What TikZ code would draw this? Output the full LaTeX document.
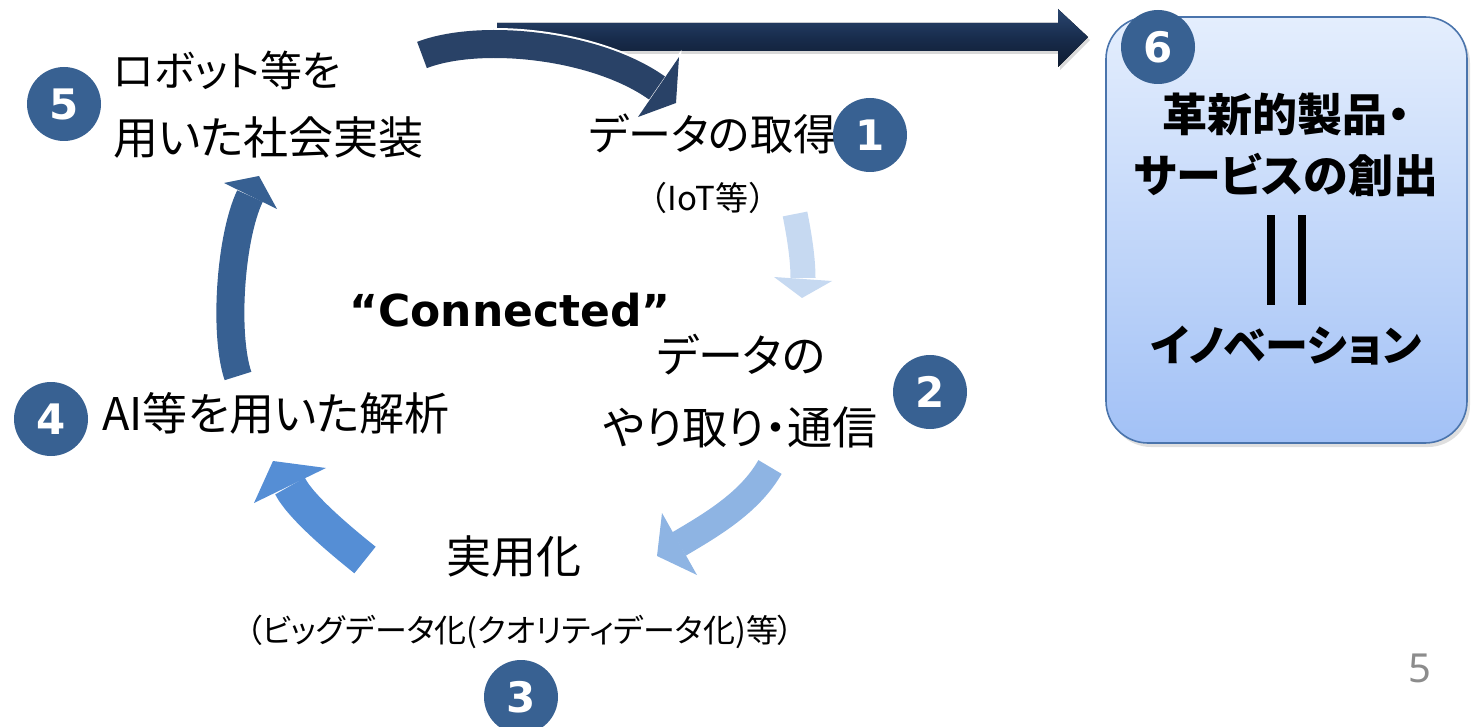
\documentclass[tikz,border=0pt]{standalone}
\usepackage{fontspec}
\newfontfamily\jp[RawFeature=+palt]{Noto Sans CJK JP}
\newfontfamily\jpn{Noto Sans CJK JP}
\newfontfamily\dvs{DejaVu Sans}
\newfontfamily\nts{Noto Sans}
\usetikzlibrary{shadows}
\definecolor{numc}{HTML}{386192}
\definecolor{cA}{HTML}{294267}
\definecolor{cB}{HTML}{C6D9F1}
\definecolor{cC}{HTML}{8EB4E3}
\definecolor{cD}{HTML}{558ED5}
\definecolor{cE}{HTML}{376092}
\definecolor{stTop}{HTML}{2A4670}
\definecolor{stMid}{HTML}{182C4C}
\definecolor{stBot}{HTML}{0E1B30}
\definecolor{boxTop}{HTML}{E4EEFD}
\definecolor{boxBot}{HTML}{A2C1F6}
\definecolor{boxLine}{HTML}{4A74AC}
\definecolor{pgc}{HTML}{8C8C8C}
\begin{document}
\begin{tikzpicture}[x=0.5pt,y=-0.5pt,
  lbl/.style={font=\jp\fontsize{22.5}{27}\selectfont, inner sep=0pt},
  sml/.style={font=\jpn\fontsize{16.5}{19}\selectfont, inner sep=0pt},
  bx/.style={font=\jp\bfseries\fontsize{22.5}{26}\selectfont, inner sep=0pt},
  num/.style={circle, fill=numc, minimum size=37pt, inner sep=0pt, text=white,
              font=\dvs\bfseries\fontsize{21}{21}\selectfont},
  band/.style={line cap=butt, line join=round}
]
\useasboundingbox (0,0) rectangle (1473,727);

% ---- innovation box ----
\node[draw=boxLine, line width=0.8pt, rounded corners=21pt,
      minimum width=180.5pt, minimum height=213pt,
      top color=boxTop, bottom color=boxBot,
      drop shadow={opacity=0.25, shadow xshift=1.5pt, shadow yshift=-2pt}] (box) at (1286.5,230) {};
\node[bx] (t1) at (1286,114) {革新的製品・};
\node[bx] (t2) at (1286,175) {サービスの創出};
\node[fill=black, minimum width=4pt, minimum height=45pt, inner sep=0pt] (bar1) at (1271,260) {};
\node[fill=black, minimum width=4pt, minimum height=45pt, inner sep=0pt] (bar2) at (1302,260) {};
\node[font=\jp\bfseries\fontsize{21.5}{26}\selectfont, inner sep=0pt] (t3) at (1286,346) {イノベーション};

% ---- straight arrow to the box ----
\coordinate (s0) at (497,37);
\coordinate (s1) at (1088,37);
\fill[top color=stTop, bottom color=stBot, middle color=stMid,
      drop shadow={opacity=0.3, shadow xshift=1pt, shadow yshift=-1.5pt}]
  (497,23) -- (1058,23) -- (1058,9) -- (s1) -- (1058,67) -- (1058,51) -- (497,51) -- cycle;

% ---- curved arrow 5 -> 1 (with white outline) ----
\coordinate (a1s) at (422,55);
\coordinate (a1e) at (657,88);
\draw[band, white, line width=16pt] (a1s) .. controls (479,33) and (595,44) .. (a1e);
\filldraw[white, line width=2pt, line join=miter] (679,57) -- (676,103) -- (638,117) -- cycle;
\draw[band, cA, line width=14pt] (a1s) .. controls (479,33) and (595,44) .. (a1e);
\fill[cA] (679,57) -- (676,103) -- (638,117) -- cycle;

% ---- arrow 1 -> 2 ----
\coordinate (bS) at (795,214);
\coordinate (bE) at (803,278);
\draw[band, cB, line width=12.5pt] (bS) .. controls (799,234) and (803,258) .. (bE);
\fill[cB] (774,277) -- (832,281) -- (802,298) -- cycle;

% ---- arrow 2 -> 3 ----
\coordinate (cS) at (770,467);
\coordinate (cE) at (679,544);
\draw[band, cC, line width=13.5pt] (cS) .. controls (750,502) and (713,524) .. (cE);
\fill[cC] (662,513) -- (697,575) -- (657,556) -- cycle;

% ---- arrow 3 -> 4 ----
\coordinate (dS) at (365,560);
\coordinate (dE) at (290,486);
\draw[band, cD, line width=17pt] (dS) .. controls (345,544) and (301,508) .. (dE);
\fill[cD] (254,503) -- (326,468) -- (273,461) -- cycle;

% ---- arrow 4 -> 5 ----
\coordinate (eS) at (238,376);
\coordinate (eE) at (250,196);
\draw[band, cE, line width=14pt] (eS) .. controls (224,335) and (230,238) .. (eE);
\fill[cE] (224,183) -- (277,209) -- (259,176) -- cycle;

% ---- labels ----
\node[font=\jp\fontsize{21}{27}\selectfont, inner sep=0pt, anchor=west] (l5a) at (113,70) {ロボット等を};
\node[lbl, anchor=west] (l5b) at (113,138) {用いた社会実装};
\node[font=\jp\fontsize{21.5}{27}\selectfont, inner sep=0pt, anchor=west] (l1) at (588,134) {データの取得};
\node[sml] (l1s) at (708,198) {（IoT等）};
\node[lbl] (l2a) at (741,355) {データの};
\node[lbl] (l2b) at (740,427) {やり取り・通信};
\node[lbl, anchor=west] (l4) at (102,413) {AI等を用いた解析};
\node[lbl] (l3) at (514,557) {実用化};
\node[font=\jp\fontsize{16}{19}\selectfont, inner sep=0pt] (l3s) at (520,632) {（ビッグデータ化(クオリティデータ化)等）};
\node[font=\dvs\bfseries\fontsize{22}{22}\selectfont, inner sep=0pt, anchor=base] (conn) at (510,327) {“Connected”};

% ---- number badges ----
\node[num] (n1) at (870,135) {1};
\node[num] (n2) at (930,392) {2};
\node[num] (n3) at (521,697) {3};
\node[num] (n4) at (51,419) {4};
\node[num] (n5) at (64,104) {5};
\node[num] (n6) at (1158,47) {6};

% ---- page number ----
\node[text=pgc, font=\nts\fontsize{20}{20}\selectfont, inner sep=0pt] (pg) at (1420,668) {5};
\end{tikzpicture}
\end{document}
